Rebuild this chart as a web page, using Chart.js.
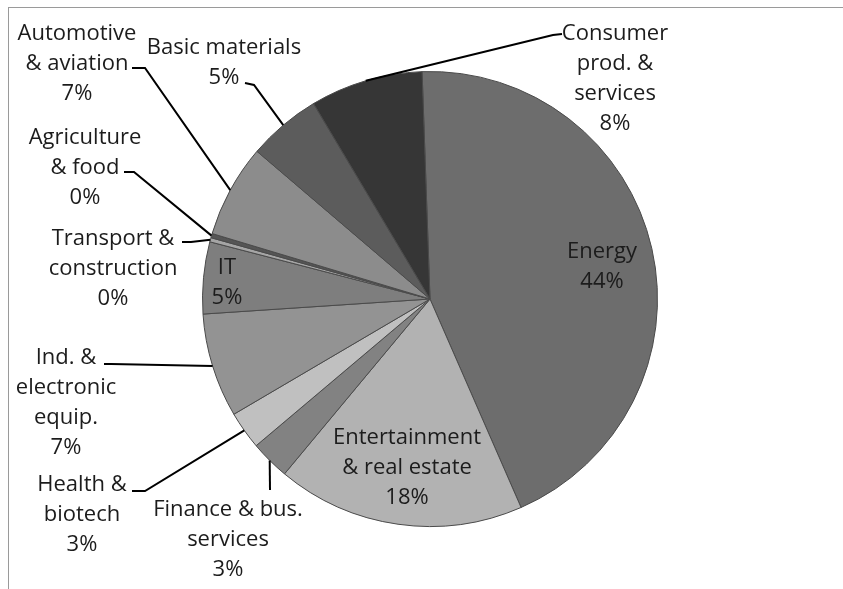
<!DOCTYPE html>
<html>
<head>
<meta charset="utf-8">
<script src="https://cdn.jsdelivr.net/npm/chart.js@4.4.1/dist/chart.umd.min.js"></script>
<style>
  html, body { margin: 0; padding: 0; background: #fff; }
  #wrap { position: relative; width: 843px; height: 589px; overflow: hidden; }
  #frame { position: absolute; left: 8px; top: 7px; right: -5px; bottom: -5px;
           border-top: 1px solid #9a9a9a; border-left: 1px solid #9a9a9a; }
  canvas { position: absolute; left: 0; top: 0; }
</style>
</head>
<body>
<div id="wrap">
  <div id="frame"></div>
  <canvas id="sector_chart" width="843" height="589"></canvas>
</div>
<script>
// 業種別の構成比（%）、時計回りに上から
const categories = [
  ['Energy'],
  ['Entertainment', '& real estate'],
  ['Finance & bus.', 'services'],
  ['Health &', 'biotech'],
  ['Ind. &', 'electronic', 'equip.'],
  ['IT'],
  ['Transport &', 'construction'],
  ['Agriculture', '& food'],
  ['Automotive', '& aviation'],
  ['Basic materials'],
  ['Consumer', 'prod. &', 'services']
];
const shares = [44.0, 17.6, 2.8, 2.7, 7.4, 5.1, 0.3, 0.3, 6.6, 5.2, 8.0];

const sliceColors = ['#6d6d6d', '#b2b2b2', '#828282', '#c0c0c0', '#939393', '#7e7e7e',
                     '#a5a5a5', '#555555', '#8c8c8c', '#5c5c5c', '#363636'];

// ラベルの配置（1行目の中心）と引き出し線
const labelLayout = [
  { x: 602, y: 252 },
  { x: 407, y: 438 },
  { x: 228, y: 510, start: [270, 490] },
  { x: 82,  y: 485, start: [132, 491], elbow: [145, 491] },
  { x: 66,  y: 358, start: [104, 364], elbow: [111, 364] },
  { x: 227, y: 268 },
  { x: 113, y: 239, start: [182, 242], elbow: [191, 242] },
  { x: 85,  y: 138, start: [124, 172], elbow: [134, 172] },
  { x: 77,  y: 34,  start: [132, 68],  elbow: [145, 68] },
  { x: 224, y: 48,  start: [245, 83],  elbow: [254, 85] },
  { x: 615, y: 34,  start: [562, 34],  elbow: [553, 35] }
];

const pieLabels = {
  id: 'pieLabels',
  afterDatasetsDraw(chart) {
    const ctx = chart.ctx;
    const arcs = chart.getDatasetMeta(0).data;
    ctx.save();
    // 引き出し線
    ctx.strokeStyle = '#000';
    ctx.lineWidth = 2;
    arcs.forEach(function (arc, i) {
      const lay = labelLayout[i];
      if (!lay.start) return;
      const p = arc.getProps(['x', 'y', 'startAngle', 'endAngle', 'outerRadius'], true);
      const mid = (p.startAngle + p.endAngle) / 2;
      const ax = p.x + p.outerRadius * Math.cos(mid);
      const ay = p.y + p.outerRadius * Math.sin(mid);
      ctx.beginPath();
      ctx.moveTo(lay.start[0], lay.start[1]);
      if (lay.elbow) ctx.lineTo(lay.elbow[0], lay.elbow[1]);
      ctx.lineTo(ax, ay);
      ctx.stroke();
    });
    // テキスト
    ctx.fillStyle = '#1c1c1c';
    ctx.font = '22px "Open Sans"';
    ctx.textAlign = 'center';
    ctx.textBaseline = 'middle';
    categories.forEach(function (lines, i) {
      const lay = labelLayout[i];
      const all = lines.concat([Math.round(shares[i]) + '%']);
      all.forEach(function (t, k) {
        ctx.fillText(t, lay.x, lay.y + k * 30);
      });
    });
    ctx.restore();
  }
};

let pieCtx = document.getElementById('sector_chart');
let pieConfig = {
  type: 'pie',
  data: {
    labels: categories,
    datasets: [{
      data: shares,
      backgroundColor: sliceColors,
      borderColor: '#4a4a4a',
      borderWidth: 1
    }]
  },
  options: {
    responsive: false,
    animation: false,
    rotation: -2,
    layout: { padding: { left: 202, right: 185, top: 71, bottom: 62 } },
    plugins: {
      legend: { display: false },
      tooltip: { enabled: false }
    }
  },
  plugins: [pieLabels]
};
let pieChart = new Chart(pieCtx, pieConfig);
</script>
</body>
</html>
